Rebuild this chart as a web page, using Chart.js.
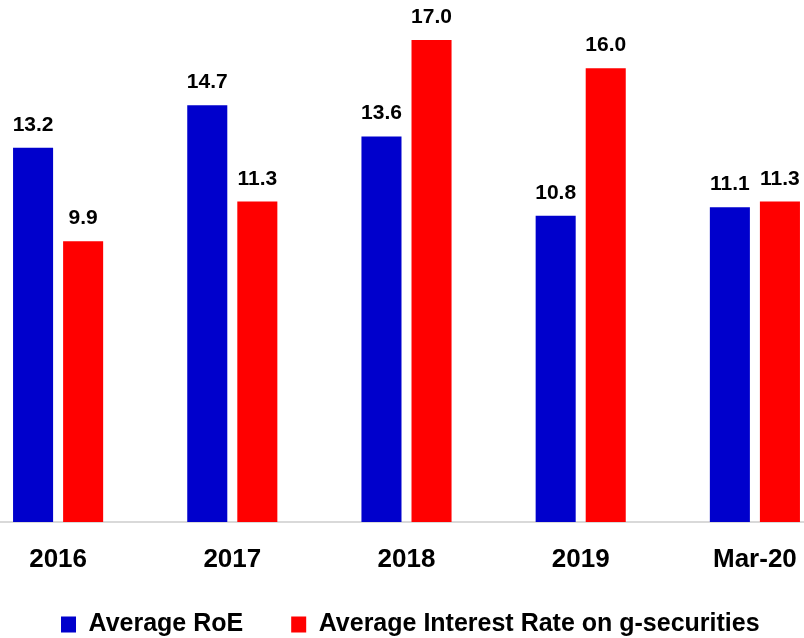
<!DOCTYPE html>
<html>
<head>
<meta charset="utf-8">
<script src="https://cdn.jsdelivr.net/npm/chart.js@4/dist/chart.umd.min.js"></script>
<style>
  html, body { margin: 0; padding: 0; background: #ffffff; overflow: hidden; width: 804px; height: 638px; }
  #wrap { position: absolute; left: -29px; top: 0; width: 871px; height: 679.5px; }
</style>
</head>
<body>
<div id="wrap"><canvas id="c" width="871" height="680"></canvas></div>
<script>
const categories = ['2016', '2017', '2018', '2019', 'Mar-20'];
const avgRoE = [13.2, 14.7, 13.6, 10.8, 11.1];
const avgInterestRate = [9.9, 11.3, 17.0, 16.0, 11.3];
const seriesNames = ['Average RoE', 'Average Interest Rate on g-securities'];

const FONT = "'Liberation Sans', Arial, sans-serif";

const valueLabels = {
  id: 'valueLabels',
  afterDatasetsDraw(chart) {
    const ctx = chart.ctx;
    ctx.save();
    ctx.font = 'bold 21px ' + FONT;
    ctx.fillStyle = '#000000';
    ctx.textAlign = 'center';
    ctx.textBaseline = 'alphabetic';
    chart.data.datasets.forEach((ds, di) => {
      const meta = chart.getDatasetMeta(di);
      meta.data.forEach((bar, i) => {
        ctx.fillText(ds.data[i].toFixed(1), bar.x, bar.y - 17);
      });
    });
    ctx.restore();
  }
};

// move the legend block closer to the axis labels (horizontal item spacing needs a large padding)
const legendNudge = {
  id: 'legendNudge',
  afterLayout(chart) {
    const lg = chart.legend;
    if (!lg) return;
    lg.top -= 33; lg.bottom -= 33;
    lg.left += 3.8; lg.right += 3.8;
  }
};

new Chart(document.getElementById('c'), {
  type: 'bar',
  data: {
    labels: categories,
    datasets: [
      { label: seriesNames[0], data: avgRoE, backgroundColor: '#0000CC', borderWidth: 0 },
      { label: seriesNames[1], data: avgInterestRate, backgroundColor: '#FF0000', borderWidth: 0 }
    ]
  },
  options: {
    responsive: false,
    animation: false,
    devicePixelRatio: 1,
    categoryPercentage: 100 / 174,
    barPercentage: 0.8,
    layout: { padding: 0 },
    plugins: {
      tooltip: { enabled: false },
      legend: {
        position: 'bottom',
        labels: {
          boxWidth: 15,
          boxHeight: 16,
          padding: 48,
          color: '#000000',
          font: { family: FONT, size: 25, weight: 'bold' }
        }
      }
    },
    scales: {
      x: {
        grid: { display: false, drawTicks: false },
        border: { display: true, color: '#d9d9d9', width: 2 },
        ticks: {
          color: '#000000',
          padding: 27.5,
          font: { family: FONT, size: 26, weight: 'bold', lineHeight: '20px' }
        }
      },
      y: {
        display: false,
        min: 0,
        max: 18.41
      }
    }
  },
  plugins: [valueLabels, legendNudge]
});
</script>
</body>
</html>
